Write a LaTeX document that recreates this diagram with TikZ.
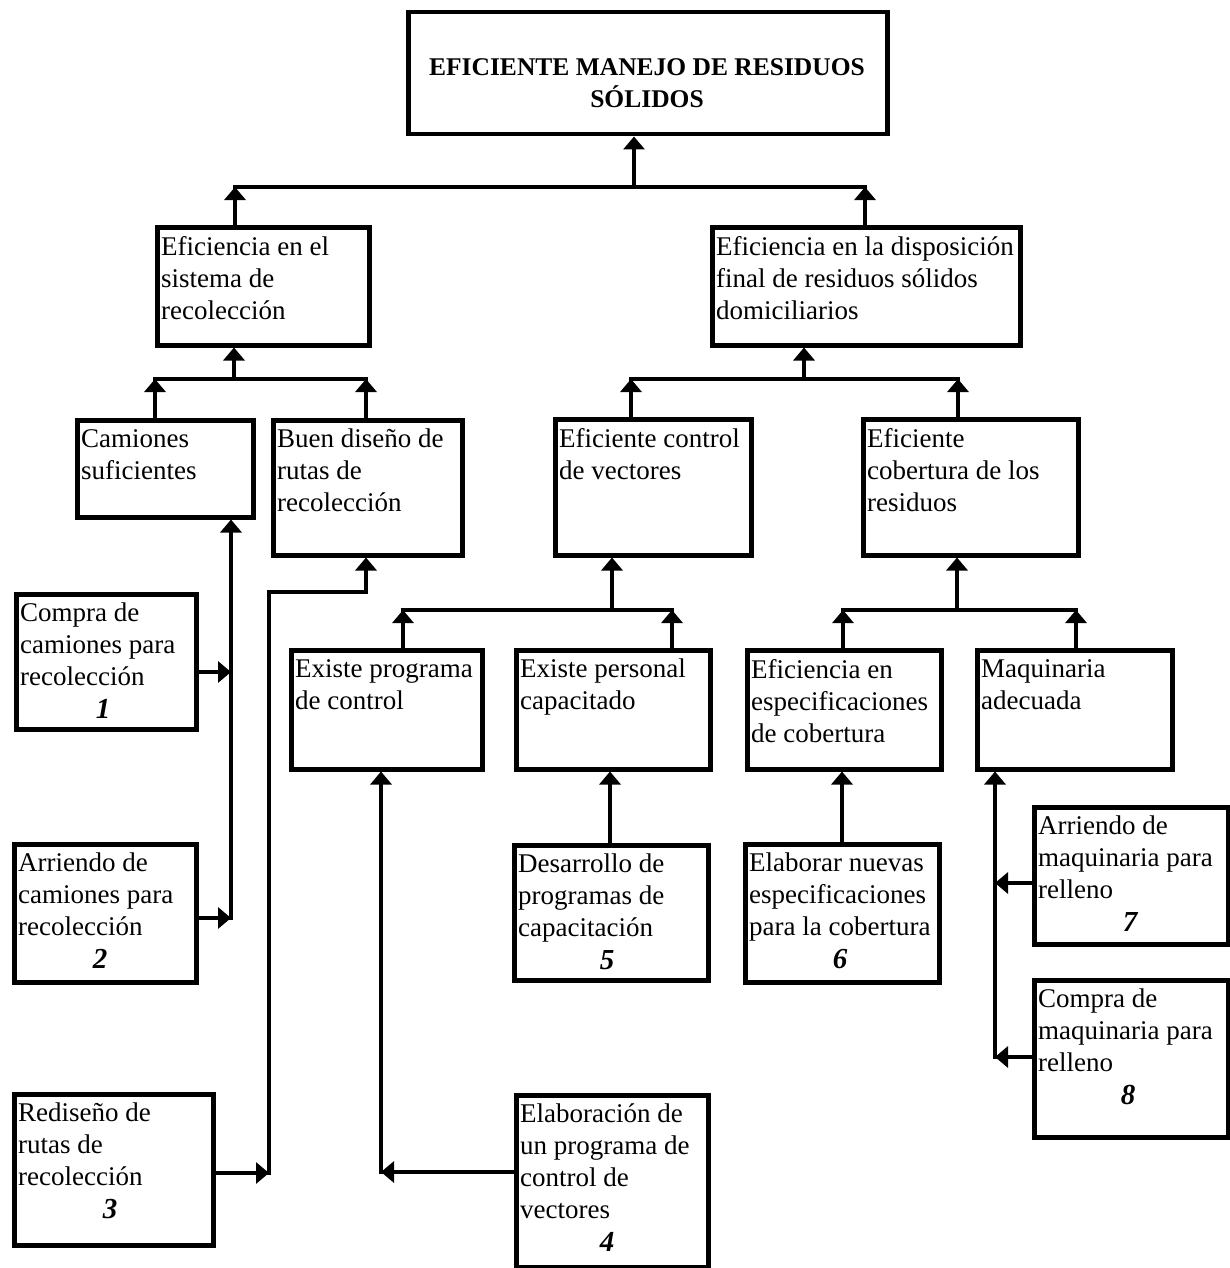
\documentclass[tikz,border=0pt]{standalone}
\usepackage{fontspec}
\setmainfont{Liberation Serif}
\usetikzlibrary{arrows.meta}
\tikzset{
  bx/.style={draw, line width=4.5pt, inner sep=0pt},
  txt/.style={inner sep=0pt, align=left, font=\fontsize{27}{32}\selectfont},
  ttl/.style={inner sep=0pt, align=center, font=\fontsize{25.5}{32}\selectfont\bfseries},
  num/.style={inner sep=0pt, anchor=base, font=\fontsize{29}{32}\selectfont\bfseries\itshape},
  ln/.style={line width=4.2pt, line cap=rect},
  arr/.style={ln, -{Triangle[length=13pt,width=21pt]}}
}
\newcommand\mybox[6]{%
  \node[bx, minimum width={#4-#2}, minimum height={#5-#3}, anchor=north west] (#1) at (#2,-#3) {};
  \node[txt, anchor=north west] (#1t) at (#2+6,-#3-11) {#6};
}
\begin{document}
\begin{tikzpicture}[x=1pt,y=1pt]
\useasboundingbox (0,0) rectangle (1230,-1268);
% title
\node[bx, minimum width=479, minimum height=122, anchor=north west] (T) at (406,-10) {};
\node[ttl] (Tt) at (647,-83) {EFICIENTE MANEJO DE RESIDUOS\\SÓLIDOS};
% level 1
\mybox{A}{155}{225}{367}{343}{Eficiencia en el\\sistema de\\recolección}
\mybox{B}{710}{225}{1018}{343}{Eficiencia en la disposición\\final de residuos sólidos\\domiciliarios}
% level 2
\mybox{C}{75}{418}{251}{515}{Camiones\\suficientes}
\mybox{D}{271}{418}{460}{553}{Buen diseño de\\rutas de\\recolección}
\mybox{E}{553}{417}{749}{553}{Eficiente control\\de vectores}
\mybox{F}{861}{417}{1076}{553}{Eficiente\\cobertura de los\\residuos}
% level 3
\mybox{G}{289}{648}{480}{767}{Existe programa\\de control}
\mybox{H}{514}{648}{708}{767}{Existe personal\\capacitado}
\mybox{I}{745}{648}{939}{767}{Eficiencia en\\especificaciones\\de cobertura}
\mybox{K}{975}{648}{1170}{767}{Maquinaria\\adecuada}
% leaves
\mybox{La}{14}{592}{194}{727}{Compra de\\camiones para\\recolección}
\mybox{Lb}{12}{842}{194}{980}{Arriendo de\\camiones para\\recolección}
\mybox{Lc}{12}{1092}{211}{1243}{Rediseño de\\rutas de\\recolección}
\mybox{Ld}{514}{1093}{706}{1265}{Elaboración de\\un programa de\\control de\\vectores}
\mybox{Le}{512}{843}{706}{978}{Desarrollo de\\programas de\\capacitación}
\mybox{Lf}{743}{842}{937}{980}{Elaborar nuevas\\especificaciones\\para la cobertura}
\mybox{Lg}{1032}{805}{1226}{942}{Arriendo de\\maquinaria para\\relleno}
\mybox{Lh}{1032}{978}{1226}{1135}{Compra de\\maquinaria para\\relleno}
% numbers
\node[num] (Na) at (103,-718) {1};
\node[num] (Nb) at (100,-968) {2};
\node[num] (Nc) at (110,-1218) {3};
\node[num] (Nd) at (607,-1251) {4};
\node[num] (Ne) at (607,-969) {5};
\node[num] (Nf) at (840,-968) {6};
\node[num] (Ng) at (1130,-931) {7};
\node[num] (Nh) at (1128,-1104) {8};
% junction coordinates
\coordinate (jT) at (634,-187);
\coordinate (jTl) at (235,-187);
\coordinate (jTr) at (865,-187);
\coordinate (jA) at (234,-379);
\coordinate (jAl) at (155,-379);
\coordinate (jAr) at (366,-379);
\coordinate (jB) at (804,-379);
\coordinate (jBl) at (631,-379);
\coordinate (jBr) at (958,-379);
\coordinate (jE) at (612,-610);
\coordinate (jEl) at (403,-610);
\coordinate (jEr) at (672,-610);
\coordinate (jF) at (957,-610);
\coordinate (jFl) at (843,-610);
\coordinate (jFr) at (1076,-610);
% top
\draw[ln] (jTl) -- (jTr);
\draw[arr] (jT) -- (jT |- T.south);
\draw[arr] (A.north -| jTl) -- (jTl);
\draw[arr] (B.north -| jTr) -- (jTr);
% under A
\draw[ln] (jAl) -- (jAr);
\draw[arr] (jA) -- (jA |- A.south);
\draw[arr] (C.north -| jAl) -- (jAl);
\draw[arr] (D.north -| jAr) -- (jAr);
% under B
\draw[ln] (jBl) -- (jBr);
\draw[arr] (jB) -- (jB |- B.south);
\draw[arr] (E.north -| jBl) -- (jBl);
\draw[arr] (F.north -| jBr) -- (jBr);
% under E
\draw[ln] (jEl) -- (jEr);
\draw[arr] (jE) -- (jE |- E.south);
\draw[arr] (G.north -| jEl) -- (jEl);
\draw[arr] (H.north -| jEr) -- (jEr);
% under F
\draw[ln] (jFl) -- (jFr);
\draw[arr] (jF) -- (jF |- F.south);
\draw[arr] (I.north -| jFl) -- (jFl);
\draw[arr] (K.north -| jFr) -- (jFr);
% C branch
\coordinate (cA) at (231,-672);
\coordinate (cB) at (231,-918);
\draw[arr] (cB) -- (cB |- C.south);
\draw[arr] (La.east |- cA) -- (cA);
\draw[arr] (Lb.east |- cB) -- (cB);
% D branch
\coordinate (dA) at (366,-592);
\coordinate (dB) at (269,-592);
\coordinate (dC) at (269,-1173);
\draw[arr] (dC) -- (dB) -- (dA) -- (dA |- D.south);
\draw[arr] (Lc.east |- dC) -- (dC);
% G branch
\coordinate (gC) at (381,-1172);
\draw[arr] (gC) -- (gC |- G.south);
\draw[arr] (Ld.west |- gC) -- (gC);
% H, I branches
\coordinate (hC) at (610,-800);
\coordinate (iC) at (842,-800);
\draw[arr] (Le.north -| hC) -- (hC |- H.south);
\draw[arr] (Lf.north -| iC) -- (iC |- I.south);
% K branch
\coordinate (kA) at (995,-883);
\coordinate (kB) at (995,-1057);
\draw[arr] (kB) -- (kB |- K.south);
\draw[arr] (Lg.west |- kA) -- (kA);
\draw[arr] (Lh.west |- kB) -- (kB);
\end{tikzpicture}
\end{document}
